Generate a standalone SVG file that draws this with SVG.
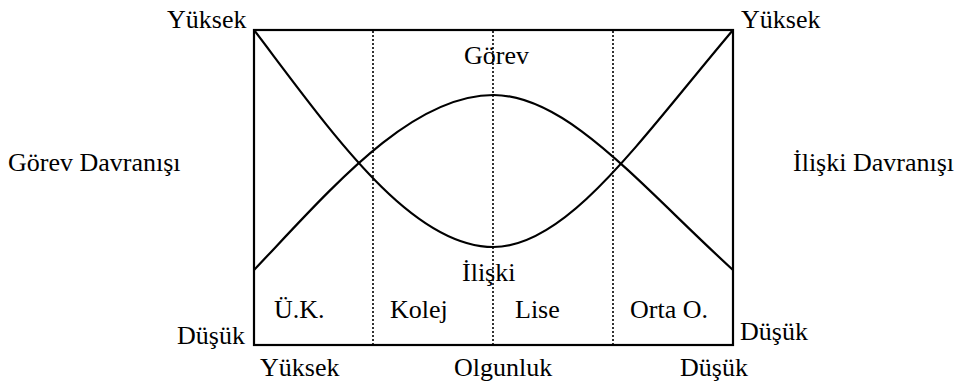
<svg xmlns="http://www.w3.org/2000/svg" width="965" height="385" viewBox="0 0 965 385">
<style>
.t{font-family:'Liberation Serif','DejaVu Serif',serif;font-size:26px;fill:#000}
.frame{fill:none;stroke:#000;stroke-width:2.2}
.curve{fill:none;stroke:#000;stroke-width:2.2}
.dot{stroke:#000;stroke-width:1.6;stroke-dasharray:2,2}
</style>
<rect x="0" y="0" width="965" height="385" fill="#fff"/>
<g id="frame">
<rect class="frame" x="254" y="30" width="479" height="315"/>
</g>
<g id="dividers">
<line class="dot" x1="373" y1="31" x2="373" y2="344"/>
<line class="dot" x1="493" y1="31" x2="493" y2="344"/>
<line class="dot" x1="613" y1="31" x2="613" y2="344"/>
</g>
<g id="connectors">
<path id="curve-iliski" class="curve" d="M254,30 C330,130 410,247 493.5,247 C567,247 640,140 733,30"/>
<path id="curve-gorev" class="curve" d="M254,270 C330,190 410,95 493.5,95 C567,95 640,185 733,270"/>
</g>
<g id="labels">
<text class="t" x="167" y="28">Yüksek</text>
<text class="t" x="741" y="28">Yüksek</text>
<text class="t" x="8" y="171">Görev Davranışı</text>
<text class="t" x="793" y="171">İlişki Davranışı</text>
<text class="t" x="464" y="64">Görev</text>
<text class="t" x="462" y="281">İlişki</text>
<text class="t" x="274" y="318">Ü.K.</text>
<text class="t" x="390" y="318">Kolej</text>
<text class="t" x="515" y="318">Lise</text>
<text class="t" x="630" y="318">Orta O.</text>
<text class="t" x="177" y="344">Düşük</text>
<text class="t" x="740" y="340">Düşük</text>
<text class="t" x="260" y="376">Yüksek</text>
<text class="t" x="454" y="376">Olgunluk</text>
<text class="t" x="680" y="376">Düşük</text>
</g>
</svg>
